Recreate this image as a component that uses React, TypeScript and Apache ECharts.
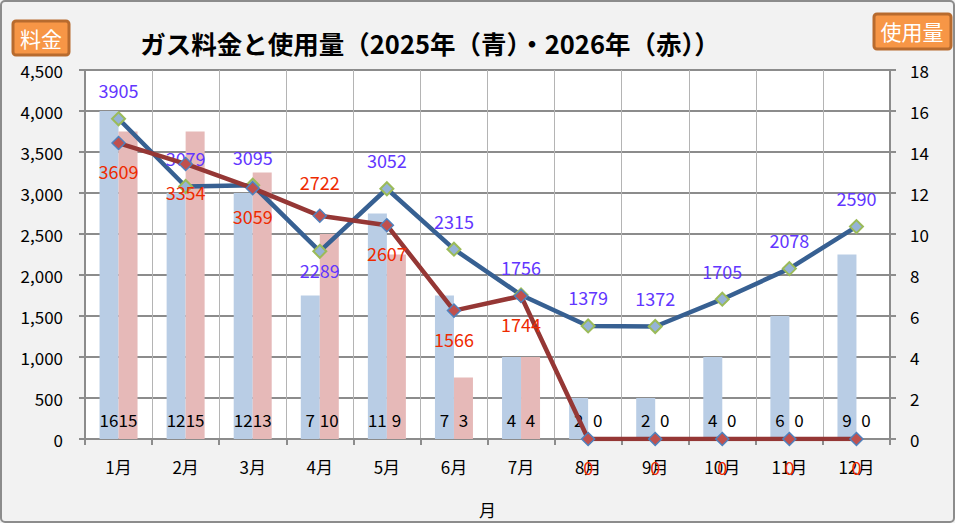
import React, { useEffect, useRef } from "react";
import * as echarts from "echarts";

const months = ["1月", "2月", "3月", "4月", "5月", "6月", "7月", "8月", "9月", "10月", "11月", "12月"];
const usage2025 = [16, 12, 12, 7, 11, 7, 4, 2, 2, 4, 6, 9];
const usage2026 = [15, 15, 13, 10, 9, 3, 4, 0, 0, 0, 0, 0];
const fee2025 = [3905, 3079, 3095, 2289, 3052, 2315, 1756, 1379, 1372, 1705, 2078, 2590];
const fee2026 = [3609, 3354, 3059, 2722, 2607, 1566, 1744, 0, 0, 0, 0, 0];
// label placement per point (Excel-like manual placement)
const fee2025LabelPos = ["top", "top", "top", "bottom", "top", "top", "top", "top", "top", "top", "top", "top"];
const fee2026LabelPos = ["bottom", "bottom", "bottom", "top", "bottom", "bottom", "bottom", "bottom", "bottom", "bottom", "bottom", "bottom"];

const FONT = "'Noto Sans CJK JP', 'Noto Sans', sans-serif";

export default function App() {
  const ref = useRef<HTMLDivElement>(null);
  useEffect(() => {
    if (!ref.current) return;
    const chart = echarts.init(ref.current, undefined, { renderer: "svg" });
    const barLabel = {
      show: true,
      position: "insideBottom",
      distance: 11,
      color: "#000",
      fontSize: 17,
      fontFamily: FONT,
    };
    const lineLabel = (pos: string, color: string, dist: number) => ({
      show: true,
      position: pos,
      distance: dist,
      color,
      fontSize: 18,
      fontFamily: FONT,
    });
    chart.setOption({
      animation: false,
      backgroundColor: "#f2f2f2",
      textStyle: { fontFamily: FONT },
      grid: {
        left: 85,
        right: 65,
        top: 70,
        bottom: 76,
        show: true,
        backgroundColor: "#ffffff",
        borderWidth: 0,
      },
      graphic: [
        {
          type: "rect",
          shape: { x: 1, y: 1, width: 953, height: 521, r: 4 },
          style: { fill: "none", stroke: "#8c8c8c", lineWidth: 2 },
          silent: true,
        },
        {
          type: "rect",
          shape: { x: 13, y: 21, width: 56, height: 34, r: 3 },
          style: { fill: "#f79646", stroke: "#b86b2e", lineWidth: 3 },
        },
        {
          type: "text",
          x: 41,
          y: 38,
          style: {
            text: "料金",
            fill: "#ffffff",
            fontSize: 21,
            fontFamily: FONT,
            align: "center",
            verticalAlign: "middle",
          },
        },
        {
          type: "rect",
          shape: { x: 874, y: 14, width: 77, height: 35, r: 3 },
          style: { fill: "#f79646", stroke: "#b86b2e", lineWidth: 3 },
        },
        {
          type: "text",
          x: 912,
          y: 31,
          style: {
            text: "使用量",
            fill: "#ffffff",
            fontSize: 21,
            fontFamily: FONT,
            align: "center",
            verticalAlign: "middle",
          },
        },
        {
          type: "text",
          x: 430,
          y: 42,
          style: {
            text: "ガス料金と使用量（2025年（青）・2026年（赤））",
            fill: "#000",
            fontSize: 25.5,
            fontWeight: "bold",
            fontFamily: FONT,
            align: "center",
            verticalAlign: "middle",
          },
        },
      ],
      xAxis: {
        type: "category",
        data: months,
        boundaryGap: true,
        name: "月",
        nameLocation: "middle",
        nameGap: 62,
        nameTextStyle: { color: "#000", fontSize: 17, fontFamily: FONT },
        axisLine: { show: true, lineStyle: { color: "#8c8c8c", width: 2 } },
        axisTick: { show: true, length: 6, lineStyle: { color: "#8c8c8c", width: 2 } },
        axisLabel: { color: "#000", fontSize: 17, margin: 19, fontFamily: FONT },
        splitLine: { show: true, lineStyle: { color: "#b4b4b4", width: 1 } },
      },
      yAxis: [
        {
          type: "value",
          min: 0,
          max: 4500,
          interval: 500,
          axisLine: { show: true, lineStyle: { color: "#8c8c8c", width: 2 } },
          axisTick: { show: true, length: 6, lineStyle: { color: "#8c8c8c", width: 2 } },
          axisLabel: {
            color: "#000",
            fontSize: 17,
            margin: 22,
            fontFamily: FONT,
            formatter: (v: number) => v.toLocaleString("en-US"),
          },
          splitLine: { show: true, lineStyle: { color: "#8c8c8c", width: 2 } },
        },
        {
          type: "value",
          min: 0,
          max: 18,
          interval: 2,
          position: "right",
          axisLine: { show: true, lineStyle: { color: "#8c8c8c", width: 2 } },
          axisTick: { show: true, length: 6, lineStyle: { color: "#8c8c8c", width: 2 } },
          axisLabel: { color: "#000", fontSize: 17, margin: 20, fontFamily: FONT },
          splitLine: { show: false },
        },
      ],
      series: [
        {
          type: "bar",
          yAxisIndex: 1,
          data: usage2025,
          barWidth: 19,
          barGap: "0%",
          itemStyle: { color: "#b9cde5" },
          label: barLabel,
          z: 2,
        },
        {
          type: "bar",
          yAxisIndex: 1,
          data: usage2026,
          barWidth: 19,
          barGap: "0%",
          itemStyle: { color: "#e6b9b8" },
          label: barLabel,
          z: 2,
        },
        {
          type: "line",
          yAxisIndex: 0,
          data: fee2025.map((v, i) => ({
            value: v,
            label: lineLabel(fee2025LabelPos[i], "#6236ff", fee2025LabelPos[i] === "bottom" ? 2 : 12),
          })),
          symbol: "diamond",
          symbolSize: 13,
          lineStyle: { color: "#376092", width: 4.5 },
          itemStyle: { color: "#95b3d7", borderColor: "#9bbb59", borderWidth: 2 },
          z: 3,
        },
        {
          type: "line",
          yAxisIndex: 0,
          data: fee2026.map((v, i) => ({
            value: v,
            label: lineLabel(fee2026LabelPos[i], "#ee2a00", fee2026LabelPos[i] === "top" ? 18 : 12),
          })),
          symbol: "diamond",
          symbolSize: 13,
          lineStyle: { color: "#953735", width: 4.5 },
          itemStyle: { color: "#c0504d", borderColor: "#4f81bd", borderWidth: 1.5 },
          z: 4,
        },
      ],
    });
    return () => chart.dispose();
  }, []);
  return (
    <div
      ref={ref}
      style={{ position: "absolute", left: 0, top: 0, width: 955, height: 523 }}
    />
  );
}
